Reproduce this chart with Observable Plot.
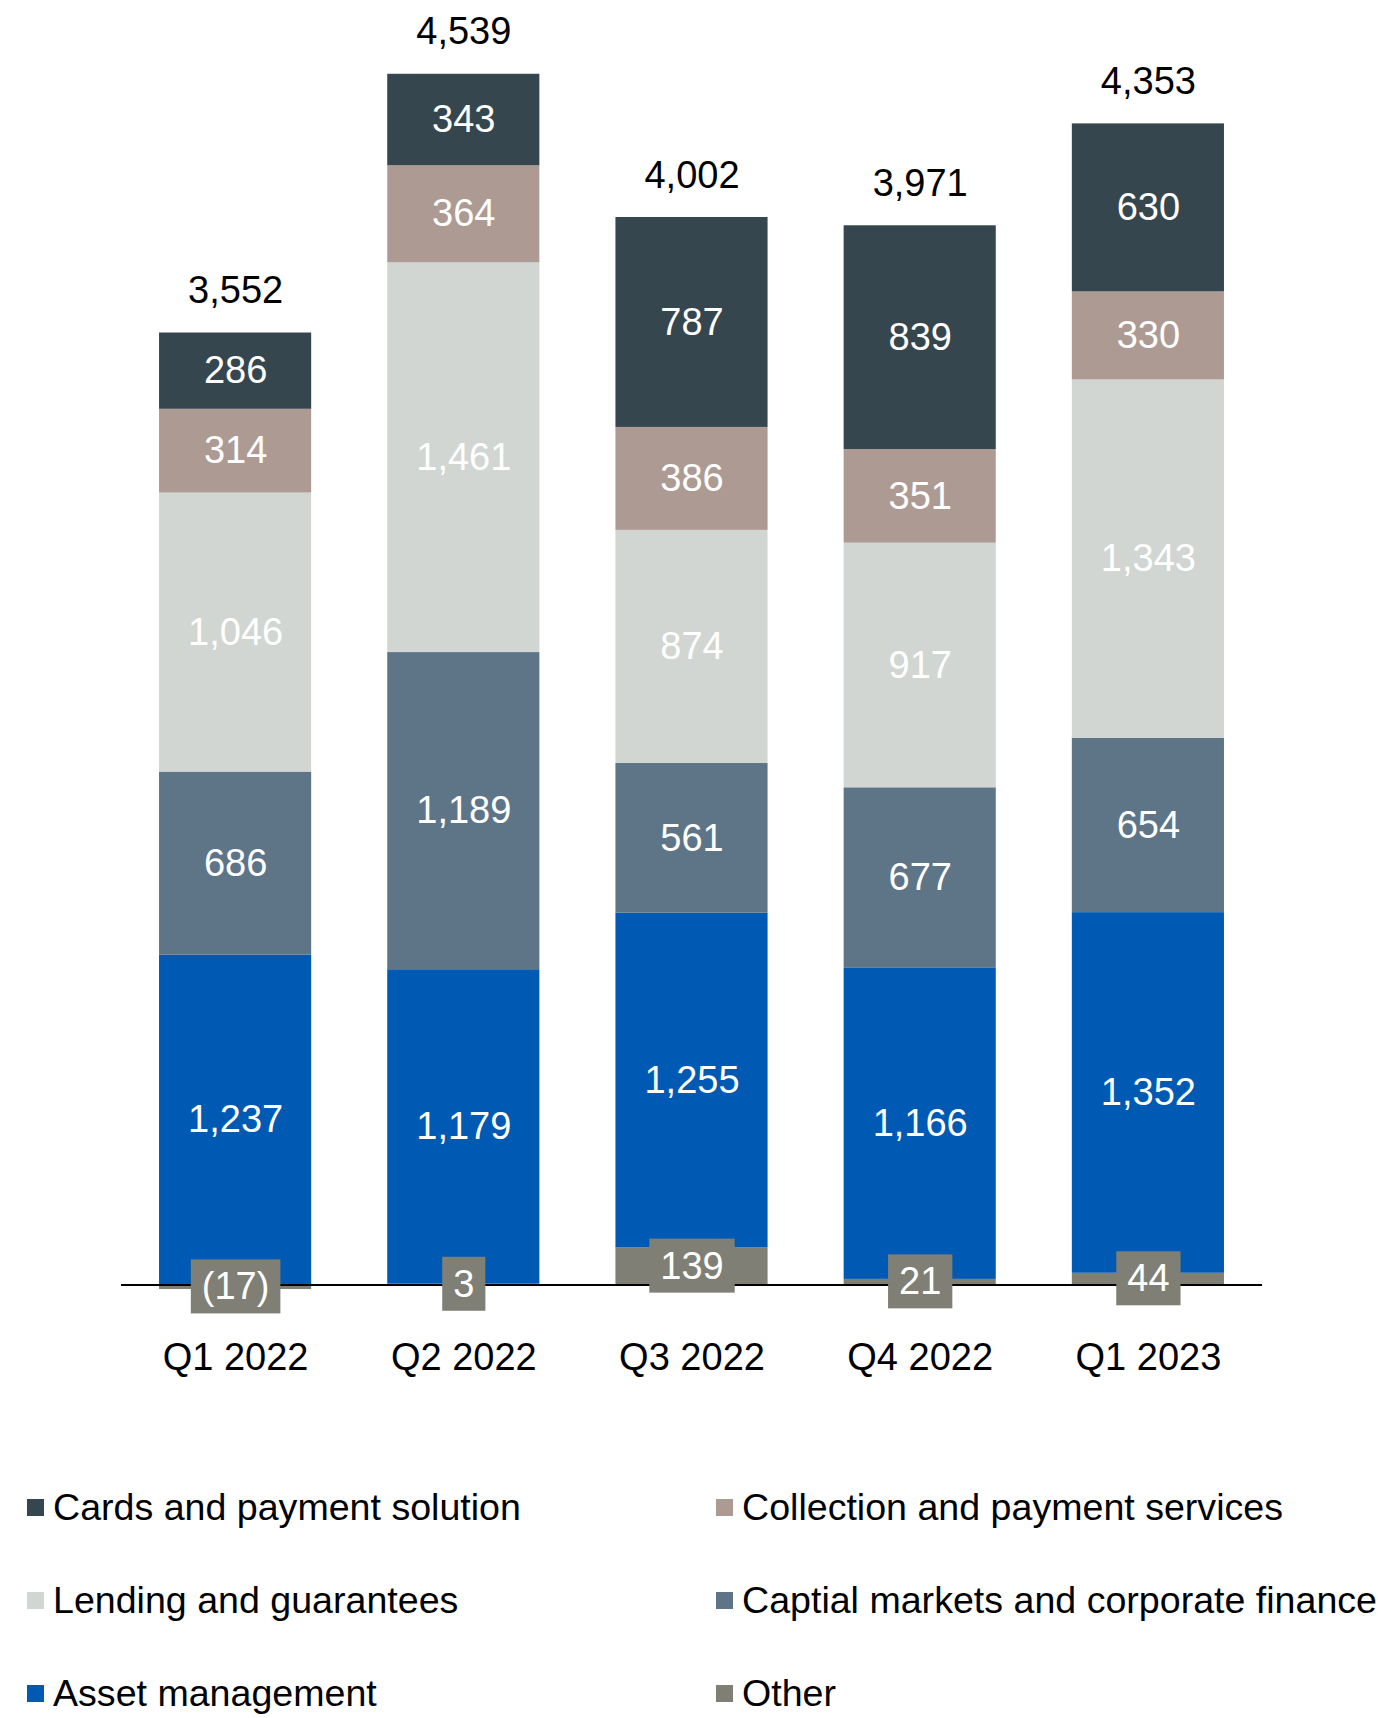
<!DOCTYPE html>
<html>
<head>
<meta charset="utf-8">
<script src="https://cdn.jsdelivr.net/npm/d3@7"></script>
<script src="https://cdn.jsdelivr.net/npm/@observablehq/plot@0.6"></script>
<style>
  html, body { margin: 0; padding: 0; background: #fff; overflow: hidden; }
  body { width: 1378px; font-family: "Liberation Sans", Arial, sans-serif; }
  #legend { display: grid; grid-template-columns: 689px 686px; margin-top: 61px; padding-left: 27px; }
  .item { height: 93px; display: flex; align-items: center; white-space: nowrap; font-size: 37.6px; color: #000; }
  .sw { width: 17px; height: 17px; margin-right: 9px; flex: none; }
</style>
</head>
<body>
<div id="chart"></div>
<div id="legend"></div>
<script>
const quarters = ["Q1 2022", "Q2 2022", "Q3 2022", "Q4 2022", "Q1 2023"];
const seriesNames = ["Other", "Asset management", "Captial markets and corporate finance", "Lending and guarantees", "Collection and payment services", "Cards and payment solution"];
const seriesColors = ["#7f7f75", "#0059b2", "#5e7588", "#d1d6d2", "#ad9b93", "#36464f"];
const other = [-17, 3, 139, 21, 44];
const assetManagement = [1237, 1179, 1255, 1166, 1352];
const capitalMarkets = [686, 1189, 561, 677, 654];
const lending = [1046, 1461, 874, 917, 1343];
const collection = [314, 364, 386, 351, 330];
const cards = [286, 343, 787, 839, 630];
const totals = [3552, 4539, 4002, 3971, 4353];
const legendOrder = ["Cards and payment solution", "Collection and payment services", "Lending and guarantees", "Captial markets and corporate finance", "Asset management", "Other"];

const seriesValues = [other, assetManagement, capitalMarkets, lending, collection, cards];
const data = [];
seriesNames.forEach((s, i) => quarters.forEach((q, j) => data.push({quarter: q, series: s, value: seriesValues[i][j]})));
const fmt = v => v < 0 ? `(${d3.format(",")(-v)})` : d3.format(",")(v);
const totalRows = quarters.map((q, j) => ({
  quarter: q,
  top: seriesValues.reduce((a, s) => a + Math.max(0, s[j]), 0),
  total: totals[j]
}));

const FS = 38;
const chart = Plot.plot({
  width: 1378,
  height: 1400,
  marginLeft: 121,
  marginRight: 116,
  marginTop: 57.5,
  marginBottom: 115.5,
  style: {fontFamily: "'Liberation Sans', Arial, sans-serif", fontSize: FS + "px", background: "#fff"},
  x: {domain: quarters, paddingInner: 1 / 3, paddingOuter: 1 / 6, round: false, label: null},
  y: {domain: [0, 4600], axis: null},
  color: {domain: seriesNames, range: seriesColors},
  marks: [
    Plot.barY(data, Plot.stackY({x: "quarter", y: "value", z: "series", fill: "series", order: seriesNames})),
    Plot.ruleY([0], {stroke: "#000", strokeWidth: 2}),
    Plot.text(data, Plot.stackY({
      x: "quarter", y: "value", z: "series", order: seriesNames,
      text: d => d.series === "Other" ? "" : fmt(d.value),
      fill: "#fff", fontSize: FS
    })),
    Plot.text(data, Plot.stackY({
      x: "quarter", y: "value", z: "series", order: seriesNames,
      filter: d => d.series === "Other",
      text: d => fmt(d.value),
      fill: "#fff", fontSize: FS, className: "other-label"
    })),
    Plot.text(totalRows, {x: "quarter", y: "top", text: d => fmt(d.total), dy: -42, fill: "#000", fontSize: FS}),
    Plot.axisX({tickSize: 0, tickPadding: 58, fontSize: FS, label: null, color: "#000"})
  ]
});
document.getElementById("chart").appendChild(chart);

// gray boxes behind "Other" labels
chart.querySelectorAll("g.other-label text").forEach(t => {
  const b = t.getBBox();
  const r = document.createElementNS("http://www.w3.org/2000/svg", "rect");
  r.setAttribute("x", b.x - 11);
  r.setAttribute("y", b.y - 6);
  r.setAttribute("width", b.width + 22);
  r.setAttribute("height", b.height + 12);
  r.setAttribute("fill", seriesColors[0]);
  const tr = t.getAttribute("transform");
  if (tr) r.setAttribute("transform", tr);
  t.parentNode.insertBefore(r, t);
});

const legend = document.getElementById("legend");
legendOrder.forEach(name => {
  const item = document.createElement("div");
  item.className = "item";
  const sw = document.createElement("span");
  sw.className = "sw";
  sw.style.background = seriesColors[seriesNames.indexOf(name)];
  item.appendChild(sw);
  item.appendChild(document.createTextNode(name));
  legend.appendChild(item);
});
</script>
</body>
</html>
